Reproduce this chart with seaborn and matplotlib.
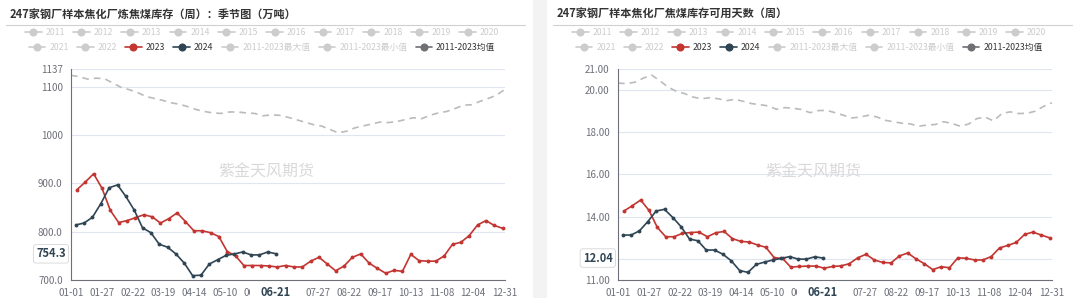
import numpy as np
import pandas as pd
import matplotlib
matplotlib.use('Agg')
import matplotlib.pyplot as plt
import matplotlib.transforms as mtrans
from matplotlib.lines import Line2D
from matplotlib.patches import Rectangle
import seaborn as sns

sns.set_style('white')
plt.rcParams['font.family'] = ['Noto Sans CJK SC', 'DejaVu Sans']

# ---- data ----
xtick_labels = ['01-01', '01-27', '02-22', '03-19', '04-14', '05-10', '06-05', '07-01',
                '07-27', '08-22', '09-17', '10-13', '11-08', '12-04', '12-31']

# 炼焦煤库存（万吨）
stock_2023 = [887, 903, 920, 890, 844, 819, 823, 829, 835, 831, 818, 827, 839, 821,
              802, 802, 798, 790, 759, 750, 730, 730, 730, 729, 727, 730, 727, 727,
              739, 747, 733, 719, 729, 747, 754, 735, 724, 714, 720, 718, 753, 740,
              739, 739, 750, 774, 778, 792, 814, 823, 813, 807]
stock_2024 = [814, 818, 830, 858, 891, 897, 873, 845, 808, 798, 774, 768, 754, 735,
              709, 710, 733, 742, 751, 754, 758, 752, 752, 758, 754.3]
stock_avg = [1124, 1121, 1116, 1118, 1117, 1108, 1099, 1094, 1088, 1080, 1076, 1072,
             1067, 1064, 1059, 1053, 1049, 1046, 1045, 1048, 1048, 1046, 1045, 1040,
             1042, 1041, 1037, 1032, 1027, 1022, 1019, 1012, 1005, 1008, 1015, 1019,
             1023, 1027, 1026, 1028, 1032, 1036, 1034, 1041, 1046, 1049, 1055, 1062,
             1063, 1070, 1076, 1083, 1095]

# 焦煤库存可用天数
days_2023 = [14.27, 14.52, 14.79, 14.30, 13.49, 13.05, 13.05, 13.21, 13.25, 13.27,
             13.05, 13.24, 13.30, 12.96, 12.83, 12.80, 12.66, 12.55, 12.06, 12.02,
             11.61, 11.64, 11.66, 11.66, 11.56, 11.64, 11.67, 11.77, 12.05, 12.22,
             11.95, 11.83, 11.81, 12.14, 12.28, 12.00, 11.77, 11.49, 11.63, 11.58,
             12.05, 12.03, 11.95, 11.95, 12.11, 12.52, 12.64, 12.78, 13.16, 13.27,
             13.13, 13.00]
days_2024 = [13.13, 13.13, 13.33, 13.77, 14.27, 14.35, 13.96, 13.52, 12.94, 12.86,
             12.42, 12.42, 12.22, 11.91, 11.45, 11.36, 11.74, 11.85, 11.95, 12.02,
             12.11, 11.99, 11.99, 12.10, 12.04]
days_avg = [20.33, 20.31, 20.37, 20.56, 20.72, 20.45, 20.14, 19.94, 19.83, 19.67,
            19.59, 19.64, 19.59, 19.50, 19.56, 19.47, 19.36, 19.31, 19.25, 19.09,
            19.17, 19.14, 19.08, 18.93, 19.03, 19.04, 18.93, 18.81, 18.68, 18.72,
            18.81, 18.73, 18.57, 18.50, 18.43, 18.40, 18.29, 18.34, 18.37, 18.50,
            18.42, 18.29, 18.39, 18.65, 18.72, 18.54, 18.89, 18.97, 18.89, 18.90,
            19.00, 19.23, 19.40]

legend_row1 = [str(y) for y in range(2011, 2021)]
legend_row2 = ['2021', '2022', '2023', '2024', '2011-2023最大值', '2011-2023最小值', '2011-2023均值']

C23, C24, CAVG, CAVG_ICON, COFF = '#c23531', '#2f4554', '#bbbbbb', '#6e7074', '#cccccc'

W, H = 1080, 298
fig = plt.figure(figsize=(W / 100, H / 100), dpi=100, facecolor='#f3f3f3')
fig.patches.append(Rectangle((0, 0), 533 / W, 1, transform=fig.transFigure,
                             facecolor='white', edgecolor='none', zorder=-10))
fig.patches.append(Rectangle((547 / W, 0), (W - 547) / W, 1, transform=fig.transFigure,
                             facecolor='white', edgecolor='none', zorder=-10))

tick_pos = pd.to_datetime(['2023-' + s for s in xtick_labels]).dayofyear - 1


def panel(px0, title, avg, v23, v24, yticks, ylabels, ylim, ptr_label):
    ax = fig.add_axes([(px0 + 71) / W, (H - 280) / H, 434 / W, 211 / H])
    ax.set_facecolor('none')
    x23 = pd.date_range('2023-01-06', periods=len(v23), freq='7D').dayofyear - 1
    x24 = pd.date_range('2024-01-05', periods=len(v24), freq='7D').dayofyear - 1
    xav = pd.date_range('2023-01-01', periods=len(avg), freq='7D').dayofyear - 1

    sns.lineplot(x=xav, y=avg, ax=ax, color=CAVG, linewidth=1.2, linestyle=(0, (4, 3)))
    sns.lineplot(x=x23, y=v23, ax=ax, color=C23, linewidth=1.2, marker='o',
                 markersize=2.8, markeredgewidth=0)
    sns.lineplot(x=x24, y=v24, ax=ax, color=C24, linewidth=1.2, marker='o',
                 markersize=2.8, markeredgewidth=0)

    ax.set_xlim(0, 364)
    ax.set_ylim(*ylim)
    ax.set_xticks(tick_pos)
    ax.set_xticklabels(xtick_labels)
    ax.set_yticks(yticks)
    ax.set_yticklabels(ylabels)
    ax.set_xlabel('')
    ax.set_ylabel('')
    for s in ['top', 'right']:
        ax.spines[s].set_visible(False)
    for s in ['left', 'bottom']:
        ax.spines[s].set_color('#6e7079')
        ax.spines[s].set_linewidth(0.8)
    ax.tick_params(length=4, width=0.8, color='#6e7079', labelcolor='#6e7079',
                   labelsize=7, pad=2)
    ax.yaxis.grid(True, color='#e0e6f1', linewidth=0.8)
    ax.set_axisbelow(True)

    # axis pointer labels
    last_day = x24[-1]
    ax.add_patch(Rectangle((last_day - 22, -0.026), 44, -0.07,
                           transform=mtrans.blended_transform_factory(ax.transData, ax.transAxes),
                           facecolor='white', edgecolor='none', clip_on=False, zorder=9))
    ax.text(last_day, -0.03, '06-21', transform=mtrans.blended_transform_factory(ax.transData, ax.transAxes),
            ha='center', va='top', fontsize=8, fontweight='bold', color=C24, zorder=10, clip_on=False)
    ax.text(-0.012, v24[-1], ptr_label,
            transform=mtrans.blended_transform_factory(ax.transAxes, ax.transData),
            ha='right', va='center', fontsize=8, fontweight='bold', color=C24, zorder=10,
            clip_on=False,
            bbox=dict(boxstyle='round,pad=0.25', facecolor='white', edgecolor='#d6d6d6', linewidth=0.6))

    # title & separator
    fig.text((px0 + 10) / W, 1 - 14 / H, title, fontsize=8, fontweight='bold',
             color='#333333', va='center', ha='left')
    fig.add_artist(Line2D([(px0 + 6) / W, (px0 + 525) / W], [1 - 25 / H] * 2,
                          color='#d0d0d0', linewidth=0.8))
    # watermark
    fig.text((px0 + 266) / W, 1 - 172 / H, '紫金天风期货', fontsize=11.5, color='#d9d9d9',
             ha='center', va='center')

    # legend rows
    def mk(c):
        return Line2D([0], [0], color=c, marker='o', markersize=4.8, linewidth=1.2)

    rows = [
        (legend_row1, [COFF] * 10, [COFF] * 10, 32.5),
        (legend_row2, [COFF, COFF, C23, C24, COFF, COFF, CAVG_ICON],
         [COFF, COFF, '#333333', '#333333', COFF, COFF, '#333333'], 47.5),
    ]
    for labels, colors, tcolors, yy in rows:
        leg = fig.legend([mk(c) for c in colors], labels, loc='center',
                         bbox_to_anchor=((px0 + 262) / W, 1 - yy / H), ncol=len(labels),
                         frameon=False, fontsize=6.3, handlelength=1.9, handletextpad=0.45,
                         columnspacing=0.95, borderpad=0, borderaxespad=0)
        for t, tc in zip(leg.get_texts(), tcolors):
            t.set_color(tc)
    return ax


panel(0, '247家钢厂样本焦化厂炼焦煤库存（周）：季节图（万吨）', stock_avg, stock_2023, stock_2024,
      [700, 800, 900, 1000, 1100, 1137], ['700.0', '800.0', '900.0', '1000', '1100', '1137'],
      (700, 1137), '754.3')
panel(547, '247家钢厂样本焦化厂焦煤库存可用天数（周）', days_avg, days_2023, days_2024,
      [11, 12, 14, 16, 18, 20, 21], ['11.00', '12.00', '14.00', '16.00', '18.00', '20.00', '21.00'],
      (11, 21), '12.04')

fig.savefig('out.png', dpi=100, facecolor=fig.get_facecolor())
